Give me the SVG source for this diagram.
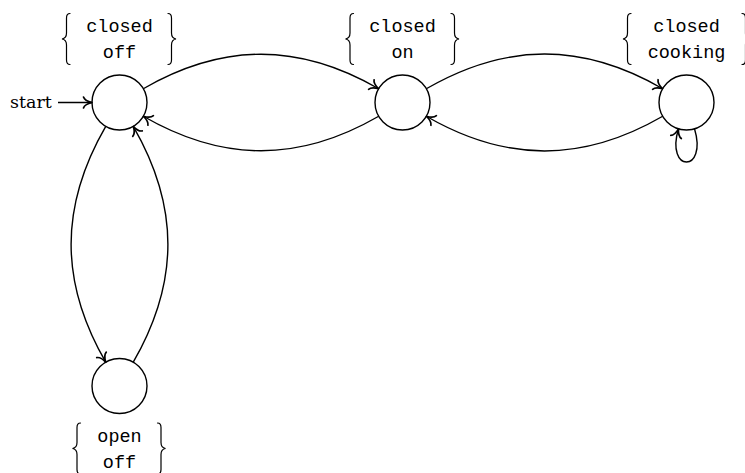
<svg xmlns="http://www.w3.org/2000/svg" width="745" height="473" viewBox="0 0 745 473">
  <style>
    .state { fill: #ffffff; stroke: #000000; stroke-width: 1.4; }
    .edge { fill: none; stroke: #000000; stroke-width: 1.4; marker-end: url(#tip); }
    .brace { fill: none; stroke: #000000; stroke-width: 1.2; stroke-linecap: round; }
    .lbl { font-family: "Liberation Mono", "DejaVu Sans Mono", monospace; font-size: 18.5px; text-anchor: middle; fill: #000000; }
    .start { font-family: "DejaVu Serif", "Liberation Serif", serif; font-size: 17.5px; fill: #000000; }
  </style>
  <defs>
    <marker id="tip" viewBox="-10 -7 11 14" refX="0" refY="0" markerWidth="11" markerHeight="14" markerUnits="userSpaceOnUse" orient="auto">
      <path d="M-8.5,-5.5 C-7.5,-2.5 -3,-0.7 0,0 C-3,0.7 -7.5,2.5 -8.5,5.5" fill="none" stroke="#000000" stroke-width="1.7" stroke-linecap="round" stroke-linejoin="round"/>
    </marker>
    <!-- curly braces around a two-line label, cusp at the origin -->
    <path id="lbrace" class="brace" d="M8,-25.5 C5,-25.5 4.5,-24 4.5,-21 L4.5,-6 C4.5,-2.5 3,-0.5 0,0 C3,0.5 4.5,2.5 4.5,6 L4.5,21 C4.5,24 5,25.5 8,25.5"/>
    <path id="rbrace" class="brace" d="M-8,-25.5 C-5,-25.5 -4.5,-24 -4.5,-21 L-4.5,-6 C-4.5,-2.5 -3,-0.5 0,0 C-3,0.5 -4.5,2.5 -4.5,6 L-4.5,21 C-4.5,24 -5,25.5 -8,25.5"/>
  </defs>

  <rect x="0" y="0" width="745" height="473" fill="#ffffff"/>

  <g id="closed-off">
    <circle class="state" cx="119.5" cy="102.5" r="27.5"/>
    <use href="#lbrace" x="62" y="39"/>
    <use href="#rbrace" x="176" y="39"/>
    <text class="lbl" x="119.5" y="32.3">closed</text>
    <text class="lbl" x="119.5" y="58.3">off</text>
  </g>

  <g id="closed-on">
    <circle class="state" cx="402.5" cy="102.5" r="27.5"/>
    <use href="#lbrace" x="345.5" y="39"/>
    <use href="#rbrace" x="459" y="39"/>
    <text class="lbl" x="402.5" y="32.3">closed</text>
    <text class="lbl" x="402.5" y="58.3">on</text>
  </g>

  <g id="closed-cooking">
    <circle class="state" cx="686.5" cy="102.5" r="27.5"/>
    <use href="#lbrace" x="623" y="39"/>
    <use href="#rbrace" x="750" y="39"/>
    <text class="lbl" x="686.5" y="32.3">closed</text>
    <text class="lbl" x="686.5" y="58.3">cooking</text>
  </g>

  <g id="open-off">
    <circle class="state" cx="119.5" cy="386" r="27.5"/>
    <use href="#lbrace" x="72.5" y="448.5"/>
    <use href="#rbrace" x="165.5" y="448.5"/>
    <text class="lbl" x="119.5" y="441.5">open</text>
    <text class="lbl" x="119.5" y="467.5">off</text>
  </g>

  <g id="start">
    <text class="start" x="10" y="108">start</text>
  </g>

  <g id="edges">
    <path class="edge" d="M58,102.5 L92,102.5"/>
    <path class="edge" d="M143.3,88.75 C223,42.75 299,42.75 378.7,88.75"/>
    <path class="edge" d="M378.7,116.25 C299,162.25 223,162.25 143.3,116.25"/>
    <path class="edge" d="M426.3,88.75 C506.4,42.5 582.6,42.5 662.7,88.75"/>
    <path class="edge" d="M662.7,116.25 C582.6,162.5 506.4,162.5 426.3,116.25"/>
    <path class="edge" d="M105.75,126.3 C59.55,206.3 59.55,282.2 105.75,362.2"/>
    <path class="edge" d="M133.25,362.2 C179.45,282.2 179.45,206.3 133.25,126.3"/>
    <path class="edge" d="M694.5,128.8 C707.8,173 665.2,173 678.5,128.8"/>
  </g>
</svg>
